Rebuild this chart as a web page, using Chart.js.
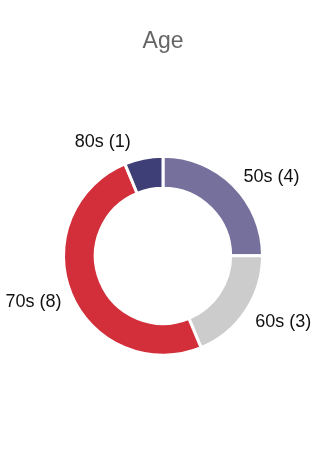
<!DOCTYPE html>
<html>
<head>
<meta charset="utf-8">
<script src="https://cdn.jsdelivr.net/npm/chart.js@4"></script>
<style>
  html, body { margin: 0; padding: 0; background: #fff; }
  #wrap { width: 328px; height: 450px; }
</style>
</head>
<body>
<div id="wrap"><canvas id="edadChart"></canvas></div>
<script>
// datos del grafico
const categorias = ["50s", "60s", "70s", "80s"];
const valores = [4, 3, 8, 1];
const colores = ["#75709c", "#cccccc", "#d22f3b", "#3f3f78"];

// etiquetas fuera del anillo: "50s (4)"
const etiquetasExternas = {
  id: 'etiquetasExternas',
  afterDraw(chart) {
    const ctx = chart.ctx;
    const meta = chart.getDatasetMeta(0);
    ctx.save();
    ctx.font = '18px "Liberation Sans", Arial, sans-serif';
    ctx.fillStyle = '#111';
    ctx.textBaseline = 'middle';
    meta.data.forEach((arco, i) => {
      const p = arco.getProps(['x', 'y', 'startAngle', 'endAngle', 'outerRadius'], true);
      const ang = (p.startAngle + p.endAngle) / 2;
      const dx = Math.cos(ang), dy = Math.sin(ang);
      const r = p.outerRadius + 8;
      const lado = dx >= 0 ? 1 : -1;
      const x = p.x + dx * r + lado * (2 + 10 * Math.pow(dy, 4));
      const y = p.y + dy * (r + 12 * Math.abs(dy)) + 3;
      ctx.textAlign = lado > 0 ? 'left' : 'right';
      ctx.fillText(categorias[i] + ' (' + valores[i] + ')', x, y);
    });
    ctx.restore();
  }
};

new Chart(document.getElementById('edadChart'), {
  type: 'doughnut',
  data: {
    labels: categorias,
    datasets: [{
      data: valores,
      backgroundColor: colores,
      borderColor: '#ffffff',
      borderWidth: 3,
      hoverOffset: 0
    }]
  },
  options: {
    responsive: true,
    maintainAspectRatio: false,
    animation: false,
    cutout: '68%',
    layout: {
      padding: { top: 16, left: 62, right: 64, bottom: 88 }
    },
    plugins: {
      legend: { display: false },
      tooltip: { enabled: false },
      title: {
        display: true,
        text: 'Age',
        color: '#666666',
        font: { family: '"Liberation Sans", Arial, sans-serif', size: 23, weight: 'normal' },
        padding: { top: 12, bottom: 94 }
      }
    }
  },
  plugins: [etiquetasExternas]
});
</script>
</body>
</html>
